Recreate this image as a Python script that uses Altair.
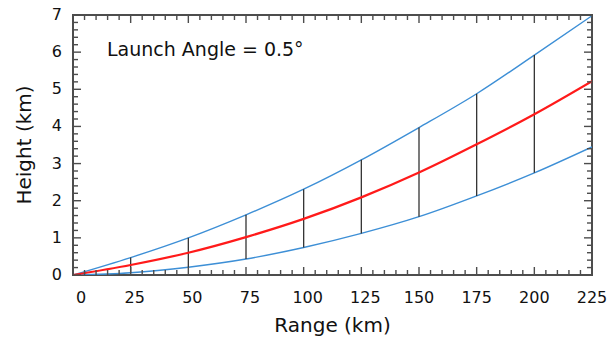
import altair as alt
import pandas as pd

# Beam geometry for a 0.5 degree launch angle
range_km = [0, 25, 50, 75, 100, 125, 150, 175, 200, 225]
center_km = [0.0, 0.27, 0.60, 1.02, 1.51, 2.09, 2.76, 3.52, 4.33, 5.22]
upper_km = [0.0, 0.47, 1.00, 1.62, 2.31, 3.10, 3.97, 4.88, 5.92, 6.98]
lower_km = [0.0, 0.06, 0.21, 0.43, 0.74, 1.12, 1.57, 2.13, 2.75, 3.45]

# Ranges where the beam width is marked with a vertical bar
bar_ranges = [25, 50, 75, 100, 125, 150, 175, 200]

x_major = list(range(0, 226, 25))
x_minor = [v for v in range(0, 226, 5) if v % 25]
y_major = list(range(0, 8))
y_minor = [round(i * 0.2, 1) for i in range(0, 36) if i % 5]

x_title = "Range (km)"
y_title = "Height (km)"
note = "Launch Angle = 0.5°"

FONT = "DejaVu Sans"
AXIS_GRAY = "#4d4d4d"
TEXT = "#111111"
W, H = 519, 260
MAJOR, MINOR = 8, 5

center_df = pd.DataFrame({"range": range_km, "height": center_km})
edges_df = pd.DataFrame({
    "range": range_km * 2,
    "height": upper_km + lower_km,
    "edge": ["upper"] * len(range_km) + ["lower"] * len(range_km),
})
bars_df = pd.DataFrame({
    "range": bar_ranges,
    "lo": [lower_km[range_km.index(r)] for r in bar_ranges],
    "hi": [upper_km[range_km.index(r)] for r in bar_ranges],
})

xscale = alt.Scale(domain=[0, 225], nice=False, zero=False)
yscale = alt.Scale(domain=[0, 7], nice=False, zero=False)


def X(field):
    return alt.X(field, scale=xscale, axis=None)


def Y(field):
    return alt.Y(field, scale=yscale, axis=None)


# Beam edges (blue)
edges = alt.Chart(edges_df).mark_line(
    color="#3d8fd6", strokeWidth=1.4, interpolate="monotone", clip=True
).encode(x=X("range:Q"), y=Y("height:Q"), detail="edge:N")

# Vertical beam-width bars
bars = alt.Chart(bars_df).mark_rule(color="#333333", strokeWidth=1.3).encode(
    x=X("range:Q"), y=Y("lo:Q"), y2="hi:Q"
)

# Beam center (red)
center = alt.Chart(center_df).mark_line(
    color="#ff1a1a", strokeWidth=2.2, interpolate="monotone", clip=True
).encode(x=X("range:Q"), y=Y("height:Q"))


def x_ticks(values, length):
    """Inward-pointing ticks on the bottom and top frame edges."""
    df = pd.DataFrame({"v": values})
    rule = alt.Chart(df).mark_rule(color=AXIS_GRAY, strokeWidth=1.4)
    xe = X("v:Q")
    return [
        rule.encode(x=xe, y=alt.value(H), y2=alt.value(H - length)),
        rule.encode(x=xe, y=alt.value(0), y2=alt.value(length)),
    ]


def y_ticks(values, length):
    """Inward-pointing ticks on the left and right frame edges."""
    df = pd.DataFrame({"v": values})
    rule = alt.Chart(df).mark_rule(color=AXIS_GRAY, strokeWidth=1.4)
    ye = Y("v:Q")
    return [
        rule.encode(y=ye, x=alt.value(0), x2=alt.value(length)),
        rule.encode(y=ye, x=alt.value(W), x2=alt.value(W - length)),
    ]


ticks = (x_ticks(x_major, MAJOR) + x_ticks(x_minor, MINOR)
         + y_ticks(y_major, MAJOR) + y_ticks(y_minor, MINOR))

# Tick labels drawn as text through the same scales
xlab_df = pd.DataFrame({"xv": x_major, "lbl": [str(v) for v in x_major]})
xlab_base = alt.Chart(xlab_df).encode(
    x=X("xv:Q"), y=alt.value(H + 15), text="lbl:N"
)
xlab_style = dict(font=FONT, fontSize=16, color=TEXT, baseline="top", align="center")
x_labels = [
    xlab_base.mark_text(dx=8, **xlab_style).transform_filter("datum.xv == 0"),
    xlab_base.mark_text(dx=4, **xlab_style).transform_filter(
        "datum.xv > 0 && datum.xv < 150"),
    xlab_base.mark_text(dx=0, **xlab_style).transform_filter("datum.xv >= 150"),
]

ylab_df = pd.DataFrame({"yv": y_major, "lbl": [str(v) for v in y_major]})
y_labels = alt.Chart(ylab_df).mark_text(
    font=FONT, fontSize=16, color=TEXT, baseline="middle", align="right"
).encode(y=Y("yv:Q"), x=alt.value(-11), text="lbl:N")

titles_x = alt.Chart(pd.DataFrame({"t": [x_title]})).mark_text(
    font=FONT, fontSize=20, color=TEXT, baseline="middle", align="center"
).encode(x=alt.value(W / 2), y=alt.value(H + 51), text="t:N")

titles_y = alt.Chart(pd.DataFrame({"t": [y_title]})).mark_text(
    font=FONT, fontSize=20, color=TEXT, baseline="middle", align="center", angle=270
).encode(x=alt.value(-48), y=alt.value(H / 2), text="t:N")

label = alt.Chart(pd.DataFrame({"t": [note]})).mark_text(
    font=FONT, fontSize=19, align="left", baseline="middle", color=TEXT
).encode(x=alt.value(34), y=alt.value(35), text="t:N")

# Frame ticks go last so they sit on top of everything else
chart = alt.layer(
    edges, bars, center, *x_labels, y_labels, titles_x, titles_y, label, *ticks
).properties(
    width=W,
    height=H,
    autosize="none",
    padding={"left": 73, "top": 15, "right": 18, "bottom": 68},
    background="white",
).configure_view(stroke=AXIS_GRAY, strokeWidth=2)

chart.save("out.html", embed_options={"renderer": "svg", "actions": False})
